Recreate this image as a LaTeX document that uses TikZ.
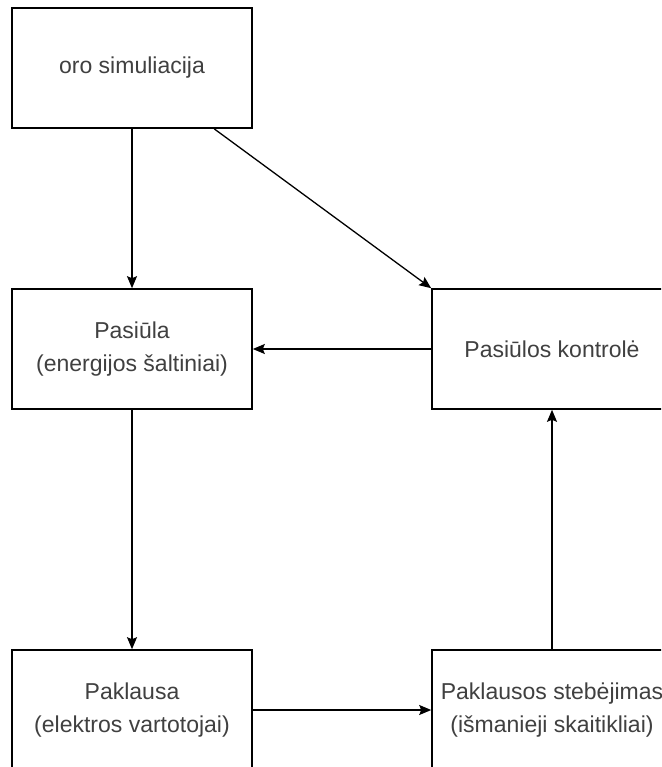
\documentclass[tikz,border=0pt]{standalone}
\usepackage{fontspec}
\setmainfont{Liberation Sans}
\usetikzlibrary{arrows.meta,calc}
\begin{document}
\begin{tikzpicture}[x=1pt,y=-1pt,
  block/.style={draw=black, line width=1.6pt, rectangle, minimum width=240pt, minimum height=120pt,
    inner sep=0pt, align=center, text=black!75, font=\fontsize{23}{33}\selectfont},
  link/.style={draw=black, line width=1.3pt, -{Stealth[length=12pt,width=10pt,inset=2pt]}}]
  \useasboundingbox (0,0) rectangle (661,767);
  \clip (0,0) rectangle (661,767);
  \fill[white] (0,0) rectangle (661,767);
  % boxes
  \node[block] (weather) at (132,68) {oro simuliacija};
  \node[block] (supply) at (132,349) {Pasiūla\\(energijos šaltiniai)};
  \node[block] (control) at (552,349) {Pasiūlos kontrolė};
  \node[block] (demand) at (132,710) {Paklausa\\(elektros vartotojai)};
  \node[block] (monitor) at (552,710) {Paklausos stebėjimas\\(išmanieji skaitikliai)};
  % connectors
  \coordinate (wout) at ($(weather.south west)!0.84!(weather.south east)$);
  \draw[link] (weather.south) -- (supply.north);
  \draw[link] (wout) -- (control.north west);
  \draw[link] (control.west) -- (supply.east);
  \draw[link] (supply.south) -- (demand.north);
  \draw[link] (demand.east) -- (monitor.west);
  \draw[link] (monitor.north) -- (control.south);
\end{tikzpicture}
\end{document}
